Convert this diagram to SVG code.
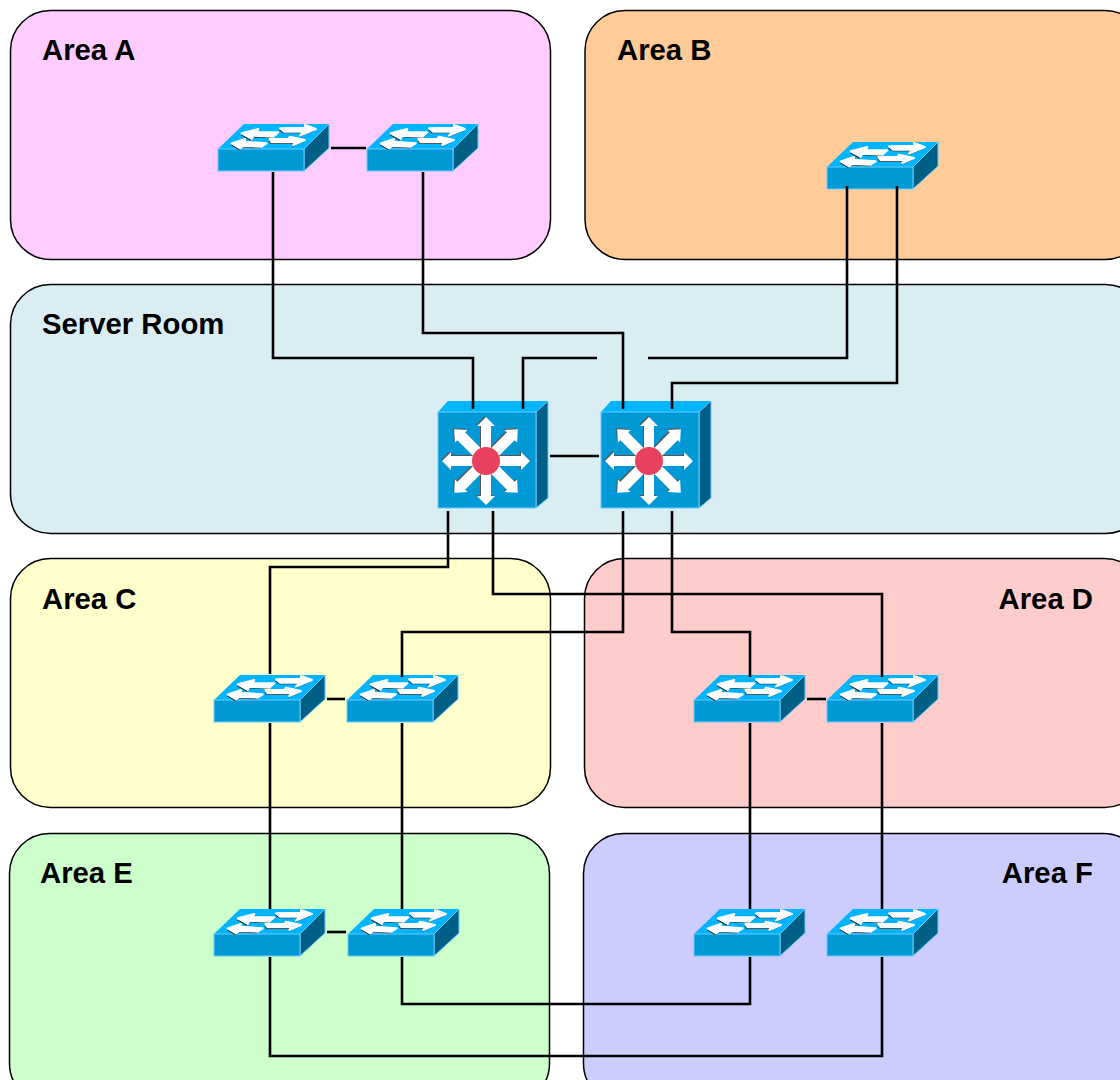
<svg xmlns="http://www.w3.org/2000/svg" xmlns:xlink="http://www.w3.org/1999/xlink" width="1120" height="1080" viewBox="0 0 1120 1080">
<style>
.area{stroke:#000;stroke-width:1.5}
.lbl{font:bold 29.3px "Liberation Sans",Arial,sans-serif;fill:#000}
.wire{fill:none;stroke:#000;stroke-width:2.6}
.front{fill:#0099D6;stroke:#66CCFF;stroke-width:1}
.top{fill:#00B4FF}
.side{fill:#005F85;stroke:#66CCFF;stroke-width:1}
.ar{fill:#fff;stroke:#fff}
.sa{stroke-width:6;stroke-linejoin:round}
.sh{fill:#222}
.bs{fill:#555}
</style>
<defs>
<g id="swa">
<polygon points="95,55 145,42 140,52 205,52 190,65 130,62 125,72"/>
<polygon points="210,40 285,38 285,30 318,42 270,62 280,50 222,50"/>
<polygon points="178,72 235,72 240,65 285,75 250,90 255,82 185,82"/>
<polygon points="65,85 105,72 105,80 170,85 155,95 100,93 90,100"/>
</g>
<g id="sw">
<polygon class="top" points="0,0 26,-25 111,-25 86,0"/>
<polygon class="side" points="86,0 111,-25 111,-1 86,22"/>
<rect class="front" x="0" y="0" width="86" height="22"/>
<g transform="translate(-8,-34) scale(.3333)">
<use href="#swa" class="sh" x="-3" y="5"/>
<use href="#swa" class="ar sa"/>
</g>
</g>
<polygon id="ua" points="-5,-12 -5,-35 -9,-35 0,-44 9,-35 5,-35 5,-12"/>
<polygon id="da" points="-5.500,-12 -5.500,-35 -9,-35 0,-45 9,-35 5.500,-35 5.500,-12"/>
<g id="star">
<use href="#ua"/><use href="#da" transform="rotate(45)"/><use href="#ua" transform="rotate(90)"/><use href="#da" transform="rotate(135)"/><use href="#ua" transform="rotate(180)"/><use href="#da" transform="rotate(225)"/><use href="#ua" transform="rotate(270)"/><use href="#da" transform="rotate(315)"/>
</g>
<g id="burst">
<use href="#star" class="bs" x="-1" y="-1"/>
<use href="#star" fill="#fff"/>
<circle r="14" fill="#E8405F"/>
</g>
<g id="l3">
<polygon class="top" points="0,0 10,-11 110,-11 98,0"/>
<polygon class="side" points="98,0 110,-11 110,86 98,96"/>
<rect class="front" x="0" y="0" width="98" height="96"/>
<use href="#burst" x="48" y="49"/>
</g>
</defs>
<g id="area-a"><rect class="area" x="10.500" y="10.500" width="540" height="249" rx="40" fill="#FFCCFF"/><text class="lbl" x="42" y="60">Area A</text></g>
<g id="area-b"><rect class="area" x="585" y="10.500" width="560" height="249" rx="40" fill="#FFCC99"/><text class="lbl" x="617" y="60">Area B</text></g>
<g id="server-room"><rect class="area" x="10.500" y="284.500" width="1135" height="249" rx="40" fill="#DAEDF3"/><text class="lbl" x="42" y="334">Server Room</text></g>
<g id="area-c"><rect class="area" x="10.500" y="558.500" width="540" height="249" rx="40" fill="#FFFFCC"/><text class="lbl" x="42" y="609">Area C</text></g>
<g id="area-d"><rect class="area" x="584.500" y="558.500" width="560" height="249" rx="40" fill="#FFCCCC"/><text class="lbl" x="1093" y="609" text-anchor="end">Area D</text></g>
<g id="area-e"><rect class="area" x="9.500" y="833.500" width="540" height="270" rx="40" fill="#CCFFCC"/><text class="lbl" x="40" y="883">Area E</text></g>
<g id="area-f"><rect class="area" x="583.500" y="833.500" width="560" height="270" rx="40" fill="#CCCCFF"/><text class="lbl" x="1093" y="883" text-anchor="end">Area F</text></g>
<g id="sw-a1"><use href="#sw" x="218" y="149"/></g>
<g id="sw-a2"><use href="#sw" x="367" y="149"/></g>
<g id="sw-b"><use href="#sw" x="827" y="167"/></g>
<g id="core-1"><use href="#l3" x="438" y="412"/></g>
<g id="core-2"><use href="#l3" x="601" y="412"/></g>
<g id="sw-c1"><use href="#sw" x="214" y="700"/></g>
<g id="sw-c2"><use href="#sw" x="347" y="700"/></g>
<g id="sw-d1"><use href="#sw" x="694" y="700"/></g>
<g id="sw-d2"><use href="#sw" x="827" y="700"/></g>
<g id="sw-e1"><use href="#sw" x="214" y="934"/></g>
<g id="sw-e2"><use href="#sw" x="348" y="934"/></g>
<g id="sw-f1"><use href="#sw" x="694" y="934"/></g>
<g id="sw-f2"><use href="#sw" x="827" y="934"/></g>
<g id="connectors" class="wire">
<path d="M331 148H366"/>
<path d="M273 172V358H473V409"/>
<path d="M423 172V333H623V409"/>
<path d="M847 186V358H648"/>
<path d="M597 358H523V409"/>
<path d="M897 186V383H672V409"/>
<path d="M550 456H599"/>
<path d="M448 511V567H270V674"/>
<path d="M493 511V594H882V677"/>
<path d="M623 511V632H402V677"/>
<path d="M672 511V632H750V677"/>
<path d="M327 699H345"/>
<path d="M807 699H826"/>
<path d="M327 932H346"/>
<path d="M270 723V909"/>
<path d="M402 723V909"/>
<path d="M750 723V909"/>
<path d="M882 723V909"/>
<path d="M402 957V1004H750V957"/>
<path d="M270 957V1056H882V957"/>
</g>
</svg>
